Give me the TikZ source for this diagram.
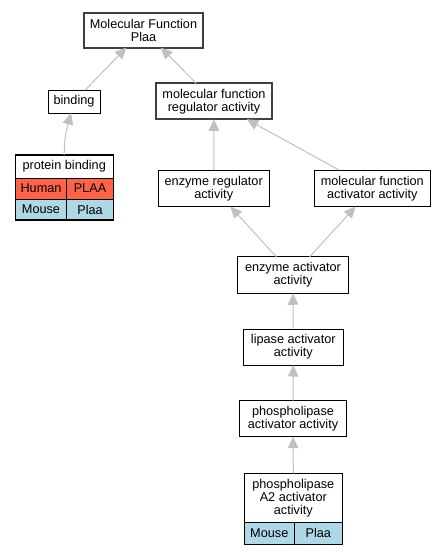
\documentclass[tikz,border=0pt]{standalone}
\usepackage{fontspec}
\setmainfont{Liberation Sans}
\usetikzlibrary{arrows.meta}
\definecolor{edgegray}{RGB}{192,192,192}
\definecolor{human}{RGB}{255,99,71}
\definecolor{mouse}{RGB}{173,216,230}

\begin{document}
\begin{tikzpicture}[x=1pt, y=-1pt,
    term/.style={draw, fill=white, line width=1pt, align=center, inner sep=0pt, outer sep=0pt, font=\fontsize{12.7}{13}\selectfont},
    root/.style={term, line width=2pt, draw=black!75},
    cell/.style={term, minimum height=21},
    isa/.style={draw=edgegray, line width=1pt, -{Triangle[length=11.5pt,width=10.5pt]}}]
        \useasboundingbox (0,0) rectangle (445,555) ;

        \node[root, minimum width=119, minimum height=35] (mf) at (143.5,30) {Molecular Function\\Plaa} ;
        \node[term, minimum width=52, minimum height=23] (binding) at (74,101.5) {binding} ;
        \node[root, minimum width=116, minimum height=36] (mfra) at (214,101.3) {molecular function\\regulator activity} ;
        \node[term, minimum width=111, minimum height=36.5] (era) at (213.7,188.3) {enzyme regulator\\activity} ;
        \node[term, minimum width=116.5, minimum height=36.5] (mfaa) at (372.3,188.3) {molecular function\\activator activity} ;
        \node[term, minimum width=111.5, minimum height=36.5] (eaa) at (293,275) {enzyme activator\\activity} ;
        \node[term, minimum width=100, minimum height=36] (laa) at (293.3,347) {lipase activator\\activity} ;
        \node[term, minimum width=107.5, minimum height=36] (pla) at (293,418.7) {phospholipase\\activator activity} ;

        % protein binding table
        \node[term, minimum width=98, minimum height=23] (pb) at (64.2,166.5) {protein binding} ;
        \node[cell, fill=human, minimum width=51.5] (pbhs) at (41,188.5) {Human} ;
        \node[cell, fill=human, minimum width=46.5] (pbhg) at (90,188.5) {PLAA} ;
        \node[cell, fill=mouse, minimum width=51.5] (pbms) at (41,209.5) {Mouse} ;
        \node[cell, fill=mouse, minimum width=46.5] (pbmg) at (90,209.5) {Plaa} ;
        \draw[line width=1.3pt] (pb.north west) rectangle (pbmg.south east) ;

        % phospholipase A2 table
        \node[term, minimum width=98, minimum height=49] (pa2) at (293.3,497.8) {phospholipase\\A2 activator\\activity} ;
        \node[cell, fill=mouse, minimum width=50, minimum height=22] (pa2ms) at (269.3,533.2) {Mouse} ;
        \node[cell, fill=mouse, minimum width=48, minimum height=22] (pa2mg) at (318.3,533.2) {Plaa} ;
        \draw[line width=1.3pt] (pa2.north west) rectangle (pa2mg.south east) ;

        \draw[isa] (binding) -- (mf) ;
        \draw[isa] (mfra) -- (mf) ;
        \draw[isa] (pb.north) to[out=90, in=-105] ([xshift=-3pt]binding.south) ;
        \draw[isa] (era) -- (mfra) ;
        \draw[isa] (mfaa) -- (mfra) ;
        \draw[isa] (eaa) -- (era) ;
        \draw[isa] (eaa) -- (mfaa) ;
        \draw[isa] (laa) -- (eaa) ;
        \draw[isa] (pla) -- (laa) ;
        \draw[isa] (pa2.north) -- (pla) ;
\end{tikzpicture}
\end{document}
